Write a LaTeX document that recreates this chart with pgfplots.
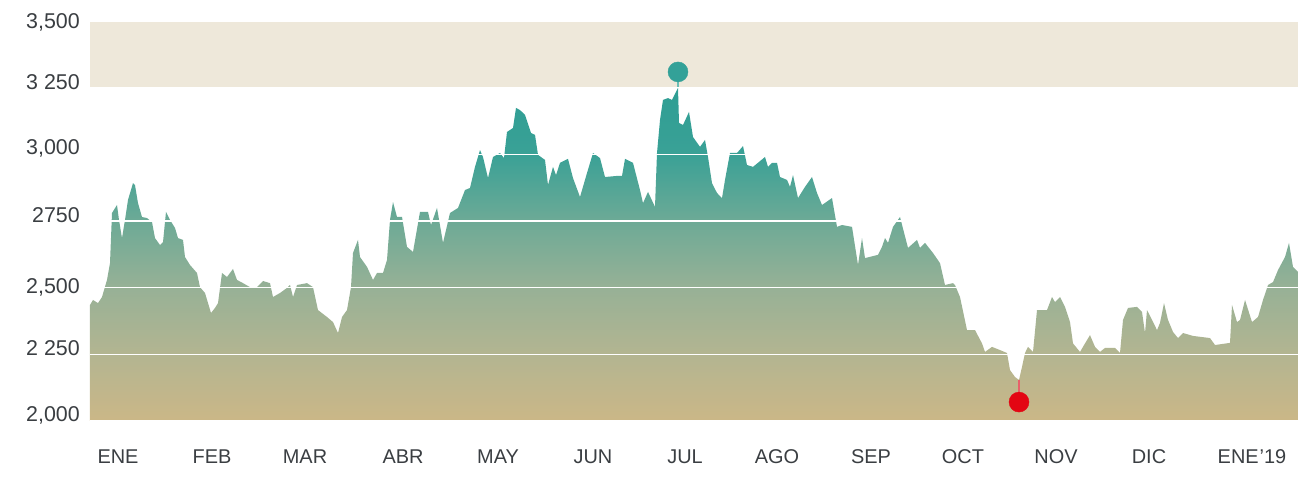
\documentclass[border=0pt]{standalone}
\usepackage{fontspec}
\setmainfont{Liberation Sans}
\usepackage{pgfplots}
\usepackage{pgfplotstable}
\pgfplotsset{compat=1.18}

\definecolor{labelgray}{HTML}{3A3E42}
\definecolor{bandbeige}{HTML}{EEE8DA}
\definecolor{c0}{HTML}{CBB787}
\definecolor{c1}{HTML}{B3B591}
\definecolor{c2}{HTML}{97B196}
\definecolor{c3}{HTML}{6DAA96}
\definecolor{c4}{HTML}{3AA196}
\definecolor{c5}{HTML}{2E9E94}
\definecolor{maxteal}{HTML}{33A198}
\definecolor{stemteal}{HTML}{6CBDB4}
\definecolor{minred}{HTML}{E30613}
\definecolor{stemred}{HTML}{E8606A}

% shading fitted to the area's bounding box (25bp..75bp = 2000..peak)
\pgfdeclareverticalshading{areafill}{100bp}{color(0bp)=(c0); color(25bp)=(c0);
  color(35bp)=(c1); color(45bp)=(c2); color(55bp)=(c3); color(65bp)=(c4);
  color(75bp)=(c5); color(100bp)=(c5)}

% x = trading position along the year (0..1208), y = index value
\pgfplotstableread{
x y
0 2000
0 2435
3 2454
8 2442
12 2465
17 2529
20 2592
22 2780
27 2810
29 2754
32 2686
35 2754
38 2829
43 2892
45 2885
48 2817
52 2765
57 2761
62 2746
65 2686
70 2660
73 2671
76 2784
80 2754
85 2724
88 2686
93 2679
95 2615
100 2585
107 2555
110 2502
115 2480
121 2405
125 2424
128 2442
132 2555
137 2540
143 2570
147 2529
153 2517
160 2502
167 2502
173 2525
180 2517
183 2465
190 2480
197 2499
200 2510
203 2465
207 2510
217 2517
223 2502
228 2416
237 2390
243 2371
248 2330
252 2390
257 2416
261 2502
263 2630
268 2679
270 2615
277 2578
283 2529
287 2555
293 2555
297 2604
300 2754
303 2821
307 2765
312 2765
317 2653
323 2634
330 2784
338 2784
341 2735
347 2799
353 2668
360 2780
368 2799
375 2866
380 2874
385 2953
390 3016
393 2990
398 2911
403 2990
410 3005
414 2986
417 3084
423 3099
426 3174
430 3166
435 3148
441 3080
445 3073
448 2998
455 2979
458 2885
463 2953
466 2922
470 2968
478 2983
483 2911
490 2840
497 2930
503 3005
510 2986
515 2915
527 2919
532 2919
535 2983
543 2968
550 2866
553 2817
558 2859
565 2803
567 3005
570 3129
573 3204
578 3211
582 3204
588 3249
589 3118
593 3110
599 3159
603 3065
610 3028
615 3054
618 2990
622 2892
627 2855
632 2836
635 2904
640 3005
647 3005
653 3031
657 2960
663 2953
675 2990
678 2953
682 2968
687 2968
690 2915
697 2904
700 2878
703 2922
708 2836
715 2878
722 2915
727 2855
732 2810
742 2836
747 2728
752 2735
762 2728
768 2585
772 2686
775 2611
788 2623
792 2653
795 2686
798 2668
803 2728
810 2765
818 2649
827 2679
830 2649
835 2668
843 2630
850 2592
855 2510
863 2517
865 2510
870 2465
877 2341
885 2341
892 2291
895 2259
902 2278
910 2266
917 2255
920 2191
925 2165
929 2154
932 2203
935 2255
938 2278
943 2259
947 2416
957 2416
962 2465
965 2446
970 2465
975 2428
980 2371
983 2291
990 2259
995 2291
1000 2322
1005 2278
1010 2259
1015 2274
1025 2274
1030 2255
1033 2379
1038 2424
1047 2428
1052 2409
1055 2330
1057 2416
1062 2379
1067 2341
1070 2368
1074 2442
1078 2379
1083 2334
1088 2311
1093 2330
1103 2319
1120 2311
1125 2285
1140 2293
1142 2435
1147 2371
1150 2379
1155 2454
1162 2371
1168 2390
1173 2454
1178 2510
1183 2521
1188 2566
1195 2615
1199 2668
1203 2578
1208 2559
1208 2000
}\pricedata

\begin{document}
\begin{tikzpicture}
\begin{axis}[
    name=ax, scale only axis, width=1208bp, height=400bp,
    xmin=0, xmax=1208, ymin=2000, ymax=3500,
    axis line style={draw=none}, major tick length=0pt,
    ytick={2000,2250,2500,2750,3000,3250,3500},
    yticklabels={{2,000},{2 250},{\raisebox{-6bp}[\height][\depth]{2,500}},{2750},{3,000},{3 250},{\raisebox{-7bp}[\height][\depth]{3,500}}},
    xtick={28,122,215,313,408,503,595,687,781,873,966,1059,1162},
    xticklabels={ENE,FEB,MAR,ABR,MAY,JUN,JUL,AGO,SEP,OCT,NOV,DIC,ENE\kern1bp’19},
    ymajorgrids, grid style={white, line width=1.5bp},
    axis on top,
    tick label style={text=labelgray},
    xticklabel style={font=\fontsize{20}{24}\selectfont, anchor=base, inner sep=0pt, yshift=-42bp},
    yticklabel style={font=\fontsize{21.5}{25}\selectfont, anchor=east, inner sep=0pt, xshift=-10bp, yshift=6bp},
]
\addplot[draw=none, fill=bandbeige] coordinates {(0,3250) (1208,3250) (1208,3500) (0,3500)};
\addplot[draw=none, shading=areafill] table[x=x, y=y] {\pricedata};
% maximum and minimum markers
\addplot[stemteal, line width=2bp] coordinates {(588,3249) (588,3300)};
\addplot[only marks, mark=*, mark size=10bp, color=maxteal] coordinates {(588,3309)};
\addplot[stemred, line width=2bp] coordinates {(929,2154) (929,2080)};
\addplot[only marks, mark=*, mark size=10bp, color=minred] coordinates {(929,2071)};
\end{axis}
\pgfresetboundingbox
\path[use as bounding box] ([shift={(-90bp,-58bp)}]ax.south west) rectangle ([shift={(1210bp,421bp)}]ax.south west);
\end{tikzpicture}
\end{document}
